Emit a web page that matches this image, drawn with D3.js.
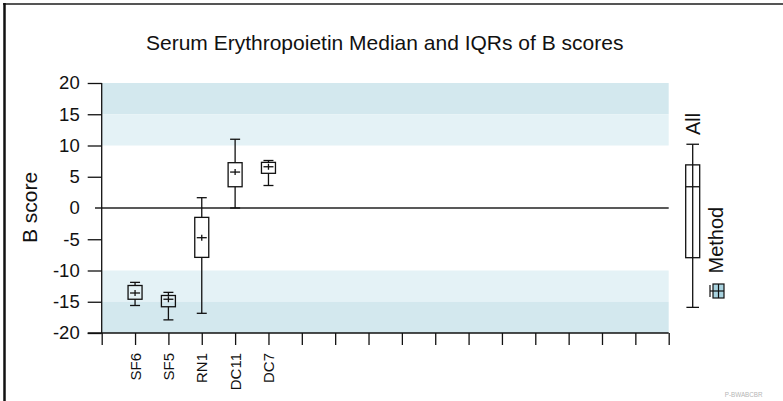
<!DOCTYPE html>
<html><head><meta charset="utf-8">
<script src="https://cdn.jsdelivr.net/npm/d3@7"></script>
<style>html,body{margin:0;padding:0;background:#fff;}svg{display:block;font-family:"Liberation Sans",Arial,sans-serif;}</style>
</head><body>
<svg id="c" width="783" height="401"></svg>
<script>
const categories = ["SF6","SF5","RN1","DC11","DC7"];
const whiskerLow  = [-15.6,-17.9,-16.85,0.0,3.6];
const q1          = [-14.6,-15.8,-7.9,3.4,5.55];
const medians     = [-13.6,-14.6,-4.75,5.75,6.6];
const q3          = [-12.4,-14.0,-1.5,7.25,7.3];
const whiskerHigh = [-11.9,-13.5,1.65,11.0,7.6];
const allStats = [-15.9,-7.95,3.4,6.9,10.2]; // min, q1, median, q3, max
const yTicks = [-20,-15,-10,-5,0,5,10,15,20];
const bands = [[15,20,"#d3e8ee"],[10,15,"#e4f2f6"],[-15,-10,"#e4f2f6"],[-20,-15,"#d3e8ee"]];
const slotCount = 17;

const svg = d3.select("#c");
const x = d3.scaleLinear().domain([0, slotCount]).range([101.7, 668.7]);
const y = d3.scaleLinear().domain([-20, 20]).range([333, 83]);

// frame (top & left)
svg.append("line").attr("x1",3).attr("x2",783).attr("y1",4).attr("y2",4).attr("stroke","#555").attr("stroke-width",2);
svg.append("line").attr("x1",4.5).attr("x2",4.5).attr("y1",3).attr("y2",401).attr("stroke","#111").attr("stroke-width",2.5);

// title
svg.append("text").attr("x",384.7).attr("y",50).attr("text-anchor","middle").attr("font-size",21).attr("fill","#111")
  .text("Serum Erythropoietin Median and IQRs of B scores");

// bands
svg.selectAll("rect.band").data(bands).enter().append("rect").attr("class","band")
  .attr("x", x(0)).attr("width", x(slotCount)-x(0))
  .attr("y", d=>y(d[1])).attr("height", d=>y(d[0])-y(d[1])).attr("fill", d=>d[2]);

// zero line
svg.append("line").attr("x1",95).attr("x2",x(slotCount)).attr("y1",y(0)).attr("y2",y(0)).attr("stroke","#222").attr("stroke-width",1.3);

// y axis
const yAxis = d3.axisLeft(y).tickValues(yTicks.filter(v=>v!==0)).tickSize(14).tickPadding(8).tickFormat(d=>String(d));
const gy = svg.append("g").attr("transform",`translate(${x(0)},0)`).call(yAxis);
gy.select(".domain").attr("d",`M0,${y(20)}V${y(-20)}`).attr("stroke","#111").attr("stroke-width",1.3);
gy.selectAll(".tick line").attr("stroke","#111").attr("stroke-width",1.3);
gy.selectAll(".tick text").attr("font-size",18.5).attr("fill","#111").attr("font-family","Liberation Sans, Arial, sans-serif");
// label for 0
svg.append("text").attr("x",x(0)-22).attr("y",y(0)).attr("dy","0.32em").attr("text-anchor","end").attr("font-size",18.5).attr("fill","#111").text("0");

// x axis
const xAxis = d3.axisBottom(x).tickValues(d3.range(0, slotCount+1)).tickSize(12).tickFormat("");
const gx = svg.append("g").attr("transform",`translate(0,${y(-20)})`).call(xAxis);
gx.select(".domain").attr("d",`M${x(0)-14},0H${x(slotCount)}`).attr("stroke","#111").attr("stroke-width",1.3);
gx.selectAll(".tick line").attr("stroke","#111").attr("stroke-width",1.3);

// category labels
svg.selectAll("text.cat").data(categories).enter().append("text").attr("class","cat")
  .attr("transform",(d,i)=>`translate(${x(i+1)+5.5},353) rotate(-90)`)
  .attr("text-anchor","end").attr("font-size",15).attr("fill","#111").text(d=>d);

// y label
svg.append("text").attr("transform",`translate(37,207.5) rotate(-90)`).attr("text-anchor","middle")
  .attr("font-size",21).attr("fill","#111").text("B score");

// box plots
const bw = 14, cw = 10, mw = 10;
const g = svg.append("g").attr("stroke","#111").attr("stroke-width",1.3).attr("fill","none");
categories.forEach((c,i)=>{
  const cx = x(i+1);
  g.append("line").attr("x1",cx).attr("x2",cx).attr("y1",y(whiskerHigh[i])).attr("y2",y(q3[i]));
  g.append("line").attr("x1",cx).attr("x2",cx).attr("y1",y(q1[i])).attr("y2",y(whiskerLow[i]));
  g.append("line").attr("x1",cx-cw/2).attr("x2",cx+cw/2).attr("y1",y(whiskerHigh[i])).attr("y2",y(whiskerHigh[i]));
  g.append("line").attr("x1",cx-cw/2).attr("x2",cx+cw/2).attr("y1",y(whiskerLow[i])).attr("y2",y(whiskerLow[i]));
  g.append("rect").attr("x",cx-bw/2).attr("width",bw).attr("y",y(q3[i])).attr("height",y(q1[i])-y(q3[i]));
  g.append("line").attr("x1",cx-mw/2).attr("x2",cx+mw/2).attr("y1",y(medians[i])).attr("y2",y(medians[i]));
  g.append("line").attr("x1",cx).attr("x2",cx).attr("y1",y(medians[i])-3).attr("y2",y(medians[i])+3);
});

// All box
const ax = 692.7;
g.append("line").attr("x1",ax).attr("x2",ax).attr("y1",y(allStats[4])).attr("y2",y(allStats[0]));
g.append("line").attr("x1",ax-6.3).attr("x2",ax+6.3).attr("y1",y(allStats[4])).attr("y2",y(allStats[4]));
g.append("line").attr("x1",ax-6.3).attr("x2",ax+6.3).attr("y1",y(allStats[0])).attr("y2",y(allStats[0]));
g.append("rect").attr("x",ax-7).attr("width",14).attr("y",y(allStats[3])).attr("height",y(allStats[1])-y(allStats[3]));
g.append("line").attr("x1",ax-7).attr("x2",ax+7).attr("y1",y(allStats[2])).attr("y2",y(allStats[2]));

svg.append("text").attr("transform",`translate(699.5,135) rotate(-90)`).attr("text-anchor","start")
  .attr("font-size",20).attr("fill","#111").text("All");
svg.append("text").attr("transform",`translate(723,273.5) rotate(-90)`).attr("text-anchor","start")
  .attr("font-size",20).attr("fill","#111").text("Method");

// legend icon
const lg = svg.append("g").attr("stroke","#111").attr("stroke-width",1.2);
lg.append("rect").attr("x",713).attr("y",284).attr("width",11).attr("height",14).attr("fill","#a9d3df");
lg.append("line").attr("x1",713).attr("x2",724).attr("y1",291).attr("y2",291);
lg.append("line").attr("x1",718.5).attr("x2",718.5).attr("y1",284).attr("y2",298);
lg.append("line").attr("x1",710).attr("x2",713).attr("y1",291).attr("y2",291);
lg.append("line").attr("x1",710).attr("x2",710).attr("y1",285).attr("y2",297);

// watermark
svg.append("text").attr("x",724.7).attr("y",397).attr("font-size",6.3).attr("fill","#b5b5b5").text("P-BWABCBR");
</script>
</body></html>
